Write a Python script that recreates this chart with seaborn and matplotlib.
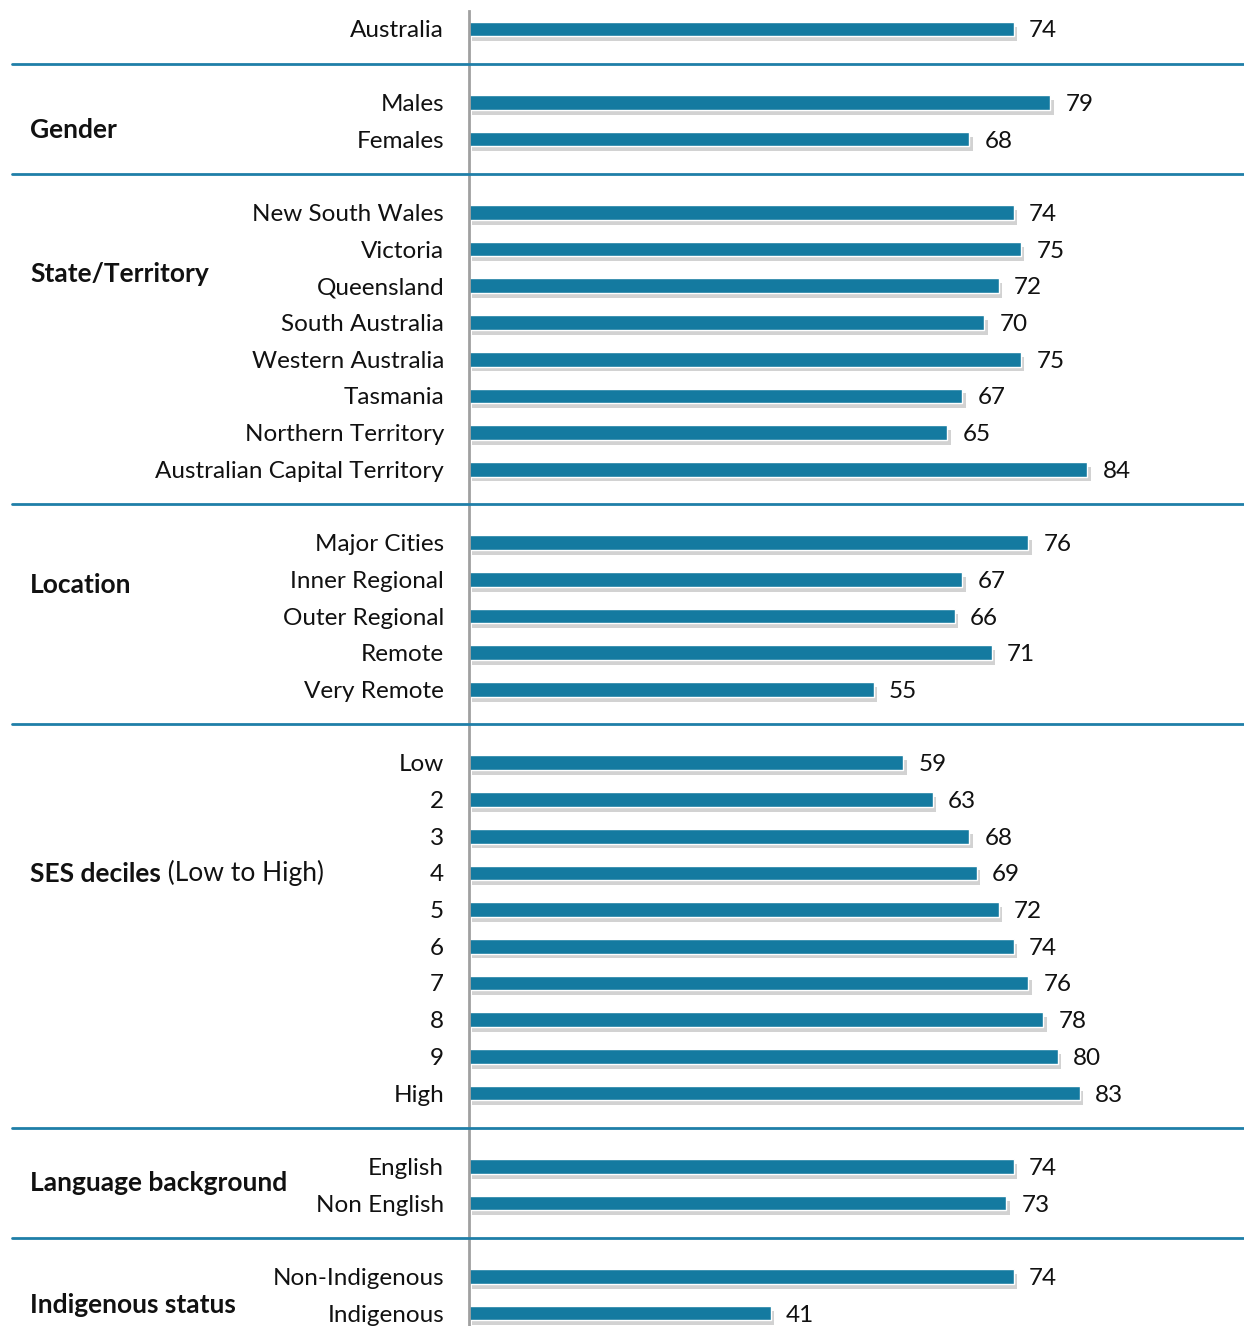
import numpy as np
import pandas as pd
import seaborn as sns
import matplotlib.pyplot as plt
import matplotlib.patheffects as pe
from matplotlib import transforms

# groups of the chart, top to bottom
group_names = ["", "Gender", "State/Territory", "Location", "SES deciles",
               "Language background", "Indigenous status"]
australia = ["Australia"]
gender = ["Males", "Females"]
states = ["New South Wales", "Victoria", "Queensland", "South Australia",
          "Western Australia", "Tasmania", "Northern Territory",
          "Australian Capital Territory"]
location = ["Major Cities", "Inner Regional", "Outer Regional", "Remote", "Very Remote"]
ses = ["Low", "2", "3", "4", "5", "6", "7", "8", "9", "High"]
language = ["English", "Non English"]
indigenous = ["Non-Indigenous", "Indigenous"]

australia_vals = [74]
gender_vals = [79, 68]
states_vals = [74, 75, 72, 70, 75, 67, 65, 84]
location_vals = [76, 67, 66, 71, 55]
ses_vals = [59, 63, 68, 69, 72, 74, 76, 78, 80, 83]
language_vals = [74, 73]
indigenous_vals = [74, 41]

groups = [australia, gender, states, location, ses, language, indigenous]
group_vals = [australia_vals, gender_vals, states_vals, location_vals, ses_vals,
              language_vals, indigenous_vals]

BAR = "#147aa0"
LINE = "#1f7fa8"

# lay out rows: each group followed by one empty row holding a separator line
rows = []
separators = []
group_spans = []
pos = 0
for name, labels, vals in zip(group_names, groups, group_vals):
    start = pos
    for lab, v in zip(labels, vals):
        rows.append({"label": lab, "value": v, "pos": pos, "group": name})
        pos += 1
    group_spans.append((name, start, pos - 1))
    separators.append(pos)
    pos += 1
separators = separators[:-1]
df = pd.DataFrame(rows)

sns.set_style("white")
plt.rcParams["font.family"] = ["Lato", "DejaVu Sans"]

fig = plt.figure(figsize=(12.44, 13.26), dpi=100)
ax = fig.add_axes([469 / 1244, 0, 775 / 1244, 1 - 11 / 1326])

sns.barplot(data=df, x="value", y="pos", orient="h", native_scale=True,
            color=BAR, width=0.4, saturation=1, ax=ax, errorbar=None)

for patch in ax.patches:
    patch.set_path_effects([pe.SimplePatchShadow(offset=(2.5, -3.5), shadow_rgbFace="#909090", alpha=0.4),
                            pe.Normal()])

vlabels = ax.bar_label(ax.containers[0], labels=[str(v) for v in df["value"]],
                       padding=11, fontsize=17.5, color="#111111")
for t in vlabels:
    t.set_va("center_baseline")

ax.set_xlim(0, 105.3)
ax.set_ylim(35.35, -0.49)
ax.set_xticks([])
ax.set_yticks(df["pos"])
ax.set_yticklabels(df["label"], fontsize=17.5, color="#111111")
ax.tick_params(axis="y", length=0, pad=18)
ax.set_xlabel("")
ax.set_ylabel("")
for s in ["top", "right", "bottom"]:
    ax.spines[s].set_visible(False)
ax.spines["left"].set_color("#a0a0a0")
ax.spines["left"].set_linewidth(2)

# separators across the whole width
trans = transforms.blended_transform_factory(fig.transFigure, ax.transData)
for s in separators:
    ax.plot([12 / 1244, 1], [s - 0.05, s - 0.05], color=LINE, lw=2,
            transform=trans, clip_on=False, zorder=5)

# group headings
heading_offsets = {"Gender": 0.25, "State/Territory": -1.82, "Location": -0.85,
                   "SES deciles": -1.47, "Language background": -0.05,
                   "Indigenous status": 0.28}
for name, start, end in group_spans:
    if not name:
        continue
    y = (start + end) / 2 + heading_offsets[name]
    t = ax.text(30 / 1244, y, name, transform=trans, fontsize=19,
                fontweight="bold", ha="left", va="center", color="#111111")
    if name == "SES deciles":
        ax.annotate(" (Low to High)", xy=(1, 0), xycoords=t, fontsize=19,
                    ha="left", va="bottom", color="#111111")

fig.savefig("out.png", dpi=100)
